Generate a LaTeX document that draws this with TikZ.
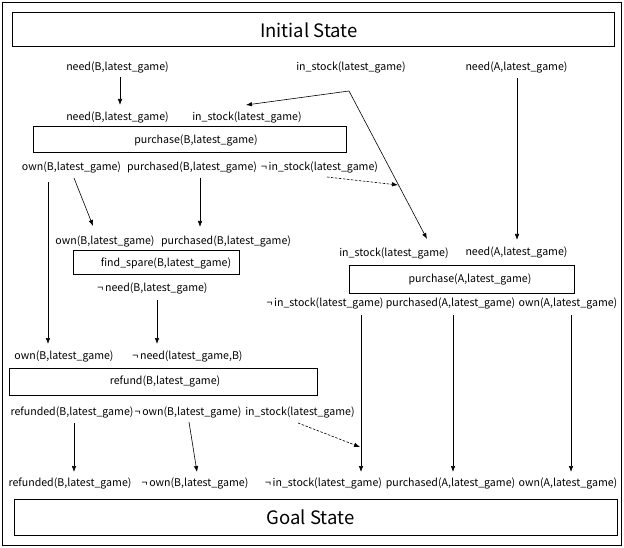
\documentclass[tikz,border=0pt]{standalone}
\usepackage{fontspec}
\setmainfont{Noto Sans CJK KR}
\usetikzlibrary{arrows.meta}
\begin{document}
\begin{tikzpicture}[x=1pt,y=-1pt,
  lab/.style={inner sep=0pt,font=\fontsize{10.6}{12}\selectfont},
  actbox/.style={draw,line width=1pt,inner sep=0pt,font=\fontsize{10.6}{12}\selectfont},
  statebox/.style={draw,line width=1pt,inner sep=0pt,font=\fontsize{18.5}{22}\selectfont},
  arr/.style={line width=0.6pt,-{Latex[length=6pt,width=4.5pt]}},
  darr/.style={arr,dash pattern=on 2.5pt off 1.5pt}]
\useasboundingbox (0,0) rectangle (624,548);
\draw[line width=1pt] (2.5,2.5) rectangle (621.5,545.5);
% state boxes
\node[statebox,minimum width=602pt,minimum height=34pt] (init) at (313,30) {Initial State\hspace*{8pt}};
\node[statebox,minimum width=603pt,minimum height=36pt] (goal) at (315.5,517) {Goal State\hspace*{10pt}};
% action boxes
\node[actbox,minimum width=313pt,minimum height=26pt] (pB) at (189.5,140) {\hspace*{13pt}purchase(B,latest\_game)};
\node[actbox,minimum width=166pt,minimum height=24pt] (fs) at (156,263) {\hspace*{20pt}find\_spare(B,latest\_game)};
\node[actbox,minimum width=225pt,minimum height=27pt] (pA) at (461.5,279.5) {\hspace*{17pt}purchase(A,latest\_game)};
\node[actbox,minimum width=308pt,minimum height=27pt] (rf) at (163,381.5) {\hspace*{4pt}refund(B,latest\_game)};
% labels
\node[lab] (l1) at (117.5,67) {need(B,latest\_game)};
\node[lab] (l2) at (351,67) {in\_stock(latest\_game)};
\node[lab] (l3) at (516.5,67) {need(A,latest\_game)};
\node[lab] (l4) at (117.5,117) {need(B,latest\_game)};
\node[lab] (l5) at (247,117) {in\_stock(latest\_game)};
\node[lab] (l6) at (71.5,167) {own(B,latest\_game)};
\node[lab] (l7) at (192,167) {purchased(B,latest\_game)};
\node[lab] (l8) at (319.5,167) {¬\,in\_stock(latest\_game)};
\node[lab] (l9) at (105,241) {own(B,latest\_game)};
\node[lab] (l10) at (226,241) {purchased(B,latest\_game)};
\node[lab] (l11) at (152.5,288) {¬\,need(B,latest\_game)};
\node[lab] (l12) at (394,253) {in\_stock(latest\_game)};
\node[lab] (l13) at (516.5,252) {need(A,latest\_game)};
\node[lab] (l14) at (325,303) {¬\,in\_stock(latest\_game)};
\node[lab] (l15) at (450.5,303) {purchased(A,latest\_game)};
\node[lab] (l16) at (568,303) {own(A,latest\_game)};
\node[lab] (l17) at (64,356) {own(B,latest\_game)};
\node[lab] (l18) at (187.5,356) {¬\,need(latest\_game,B)};
\node[lab] (l19) at (72,412) {refunded(B,latest\_game)};
\node[lab] (l20) at (188,412) {¬\,own(B,latest\_game)};
\node[lab] (l21) at (300,412) {in\_stock(latest\_game)};
\node[lab] (g1) at (70,483) {refunded(B,latest\_game)};
\node[lab] (g2) at (195,483) {¬\,own(B,latest\_game)};
\node[lab] (g3) at (323.5,483) {¬\,in\_stock(latest\_game)};
\node[lab] (g4) at (450.5,483) {purchased(A,latest\_game)};
\node[lab] (g5) at (568,483) {own(A,latest\_game)};
% arrow end points
\coordinate (a1s) at (120,77);  \coordinate (a1e) at (120,105);
\coordinate (a2s) at (349,91);  \coordinate (a2e) at (246,105);
\coordinate (a3e) at (427,239);
\coordinate (a4s) at (517,78);  \coordinate (a4e) at (517,240);
\coordinate (a5s) at (74,178);  \coordinate (a5e) at (93,226);
\coordinate (a6s) at (48,182);  \coordinate (a6e) at (48,344);
\coordinate (a7s) at (200,178); \coordinate (a7e) at (200,227);
\coordinate (a8s) at (327,177); \coordinate (a8e) at (398,185);
\coordinate (a9s) at (157,300); \coordinate (a9e) at (157,344);
\coordinate (a10s) at (361,315); \coordinate (a10e) at (361,472);
\coordinate (a11s) at (453,315); \coordinate (a11e) at (453,472);
\coordinate (a12s) at (571,315); \coordinate (a12e) at (571,472);
\coordinate (a13s) at (74,423); \coordinate (a13e) at (74,472);
\coordinate (a14s) at (189,422); \coordinate (a14e) at (197,472);
\coordinate (a15s) at (298,423); \coordinate (a15e) at (360,447);
% arrows
\draw[arr] (a1s) -- (a1e);
\draw[arr] (a2s) -- (a2e);
\draw[arr] (a2s) -- (a3e);
\draw[arr] (a4s) -- (a4e);
\draw[arr] (a5s) -- (a5e);
\draw[arr] (a6s) -- (a6e);
\draw[arr] (a7s) -- (a7e);
\draw[darr] (a8s) -- (a8e);
\draw[arr] (a9s) -- (a9e);
\draw[arr] (a10s) -- (a10e);
\draw[arr] (a11s) -- (a11e);
\draw[arr] (a12s) -- (a12e);
\draw[arr] (a13s) -- (a13e);
\draw[arr] (a14s) -- (a14e);
\draw[darr] (a15s) -- (a15e);
\end{tikzpicture}
\end{document}
